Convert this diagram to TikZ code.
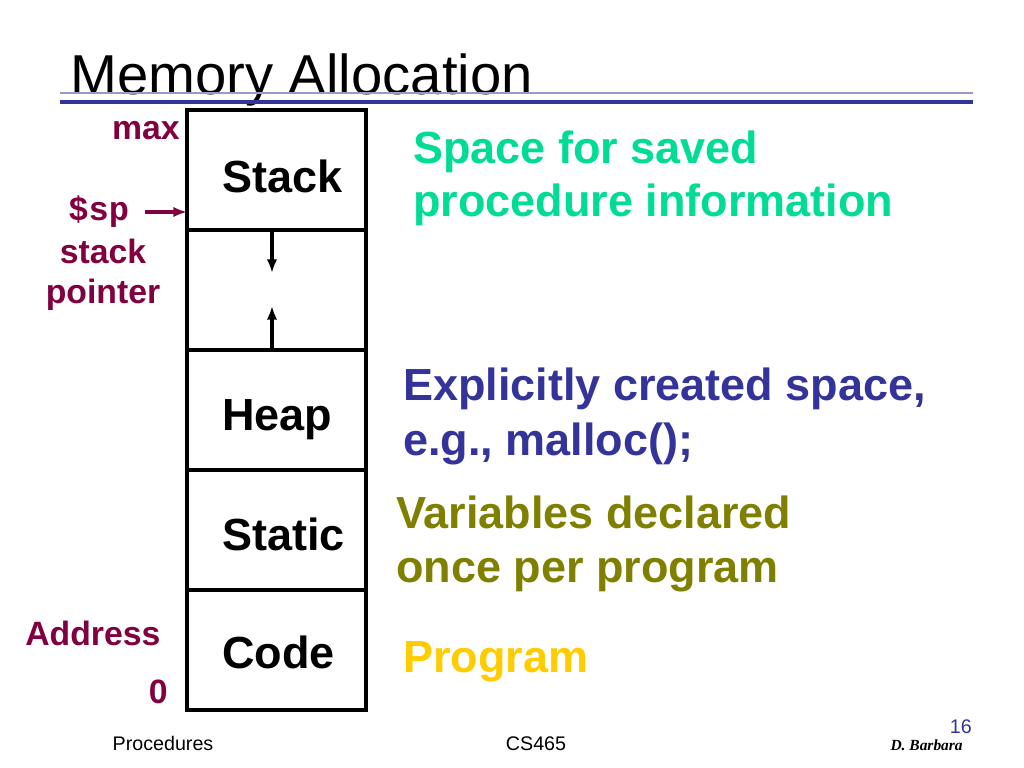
\documentclass[tikz,border=0pt]{standalone}
\usepackage{fontspec}
\setmainfont{Liberation Sans}
\setmonofont{Liberation Mono}
\newfontfamily\signfont{Liberation Serif}
\usetikzlibrary{positioning}
\usetikzlibrary{arrows.meta}
\definecolor{maroon}{RGB}{128,0,64}
\definecolor{spacegreen}{RGB}{0,220,150}
\definecolor{heapblue}{RGB}{51,51,153}
\definecolor{staticolive}{RGB}{128,128,0}
\definecolor{codegold}{RGB}{255,204,0}
\definecolor{rulelight}{RGB}{153,153,204}

\begin{document}
\begin{tikzpicture}[x=0.025cm, y=-0.025cm,
    seg/.style={draw, line width=2.4pt, minimum width=4.475cm, minimum height=3cm, outer sep=0pt, inner sep=0pt},
    segtext/.style={anchor=base west, inner sep=0pt, font=\fontsize{32}{38}\selectfont\bfseries},
    side/.style={text=maroon, inner sep=0pt, font=\fontsize{24}{28}\selectfont\bfseries},
    note/.style={anchor=base west, inner sep=0pt, font=\fontsize{32}{38}\selectfont\bfseries},
    foot/.style={anchor=base, inner sep=0pt, font=\fontsize{14}{16}\selectfont},
    growarrow/.style={-{Latex[length=3.4mm, width=2.6mm]}, line width=2.2pt}]

    \useasboundingbox (0,0) rectangle (1024,768);

    % title and rules
    \node[anchor=base west, inner sep=0pt, font=\fontsize{40}{48}\selectfont] (title) at (70,95) {Memory Allocation};
    \draw[rulelight, line width=1.1pt] (60,93) -- (973,93);
    \draw[heapblue, line width=2.8pt] (60,102) -- (973,102);

    % memory segments
    \node[seg] (stack) at (276.5,170) {};
    \node[seg, below=0pt of stack] (gap) {};
    \node[seg, below=0pt of gap] (heap) {};
    \node[seg, below=0pt of heap] (static) {};
    \node[seg, below=0pt of static] (code) {};

    \node[segtext] (stacktxt) at ([xshift=0.875cm, yshift=-0.55cm]stack.west) {Stack};
    \node[segtext] (heaptxt) at ([xshift=0.875cm, yshift=-0.5cm]heap.west) {Heap};
    \node[segtext] (statictxt) at ([xshift=0.875cm, yshift=-0.5cm]static.west) {Static};
    \node[segtext] (codetxt) at ([xshift=0.875cm, yshift=-0.45cm]code.west) {Code};

    % growth arrows
    \coordinate (down) at (272,273);
    \coordinate (up) at (272,306);
    \draw[growarrow] (down |- gap.north) -- (down);
    \draw[growarrow] (up |- gap.south) -- (up);

    % left labels
    \node[side, anchor=base east] (max) at (180,140) {max};
    \node[side, anchor=base west] (sp) at (68,220) {\ttfamily\bfseries\$sp};
    \node[side, anchor=base] (spname) at (103,263) {stack};
    \node[side, anchor=base] (spname2) at (103,303) {pointer};
    \node[side, anchor=base west] (addr) at (25,645) {Address};
    \node[side, anchor=base east] (zero) at (168,703) {0};
    \coordinate (spstart) at (145,212);
    \draw[growarrow, maroon] (spstart) -- (spstart -| stack.west);

    % descriptions
    \node[note, text=spacegreen] (stackinfo) at (413,163) {Space for saved};
    \node[note, text=spacegreen] (stackinfo2) at (413,216) {procedure information};
    \node[note, text=heapblue] (heapinfo) at (403,400) {Explicitly created space,};
    \node[note, text=heapblue] (heapinfo2) at (403,455) {e.g., malloc();};
    \node[note, text=staticolive] (staticinfo) at (396,528) {Variables declared};
    \node[note, text=staticolive] (staticinfo2) at (396,582) {once per program};
    \node[note, text=codegold] (codeinfo) at (403,672) {Program};

    % footer
    \node[foot] (course) at (163,750) {Procedures};
    \node[foot] (number) at (536,750) {CS465};
    \node[foot, anchor=base east, text=heapblue] (page) at (972,733) {16};
    \node[anchor=base east, inner sep=0pt, font=\signfont\fontsize{11}{13}\selectfont\bfseries\itshape] (author) at (963,750) {D. Barbara};

\end{tikzpicture}
\end{document}
